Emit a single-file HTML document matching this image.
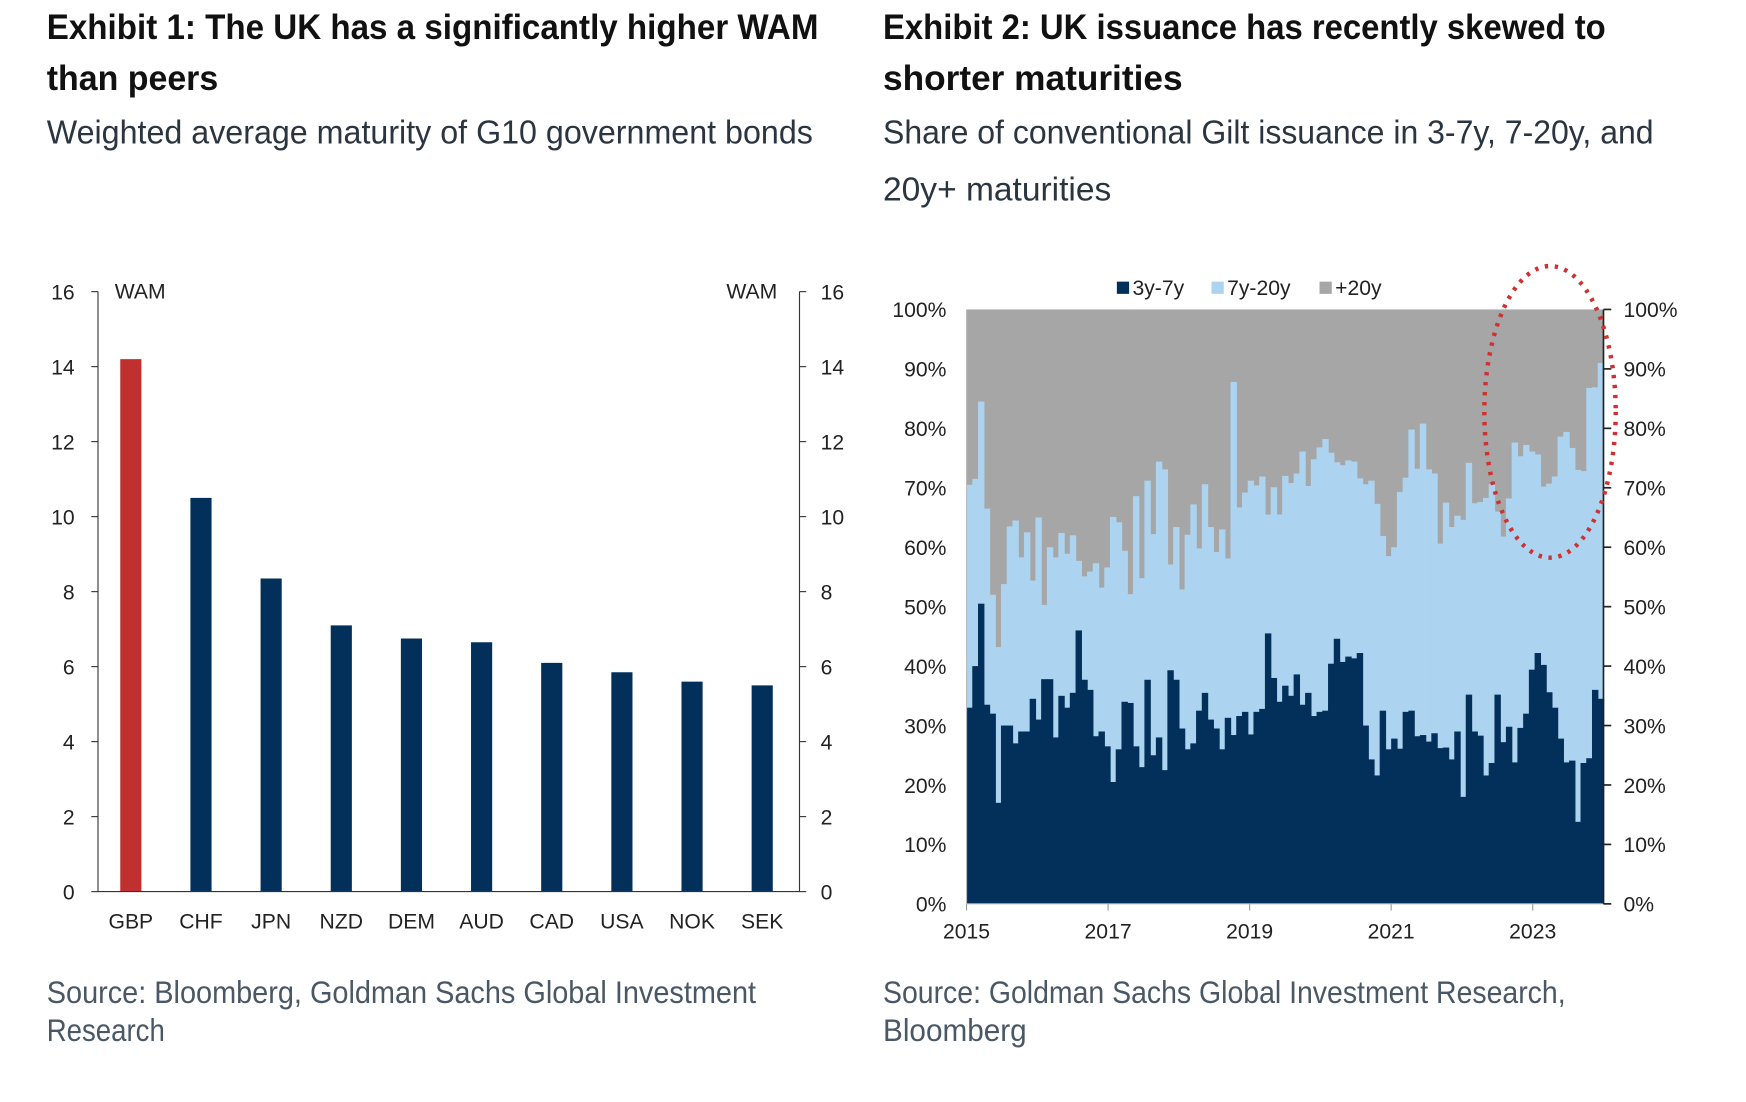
<!DOCTYPE html>
<html><head><meta charset="utf-8"><style>
html,body{margin:0;padding:0;background:#fff;}
svg{display:block;}
text{font-family:"Liberation Sans",Arial,sans-serif;}
.t{font-family:"Liberation Sans Narrow","Liberation Sans",sans-serif;font-weight:bold;fill:#111;font-size:32px;}
.s{font-family:"Liberation Sans Narrow","Liberation Sans",sans-serif;fill:#2b3540;font-size:30px;}
.src{font-family:"Liberation Sans Narrow","Liberation Sans",sans-serif;fill:#4a5866;font-size:28px;}
.ax{font-size:19px;fill:#222;}
</style></head><body>
<svg id="root" width="1746" height="1102" viewBox="0 0 1568 990" preserveAspectRatio="none" xmlns="http://www.w3.org/2000/svg">
<g>
<text class="t" x="42" y="35" textLength="693" lengthAdjust="spacingAndGlyphs">Exhibit 1: The UK has a significantly higher WAM</text>
<text class="t" x="42" y="81" textLength="154" lengthAdjust="spacingAndGlyphs">than peers</text>
<text class="s" x="42" y="129" textLength="688" lengthAdjust="spacingAndGlyphs">Weighted average maturity of G10 government bonds</text>
</g>
<g>
<text class="t" x="793" y="35" textLength="649" lengthAdjust="spacingAndGlyphs">Exhibit 2: UK issuance has recently skewed to</text>
<text class="t" x="793" y="81" textLength="269" lengthAdjust="spacingAndGlyphs">shorter maturities</text>
<text class="s" x="793" y="129" textLength="692" lengthAdjust="spacingAndGlyphs">Share of conventional Gilt issuance in 3-7y, 7-20y, and</text>
<text class="s" x="793" y="180" textLength="205" lengthAdjust="spacingAndGlyphs">20y+ maturities</text>
</g>
<text class="src" x="42" y="901" textLength="637" lengthAdjust="spacingAndGlyphs">Source: Bloomberg, Goldman Sachs Global Investment</text>
<text class="src" x="42" y="935" textLength="106" lengthAdjust="spacingAndGlyphs">Research</text>
<text class="src" x="793" y="901" textLength="613" lengthAdjust="spacingAndGlyphs">Source: Goldman Sachs Global Investment Research,</text>
<text class="src" x="793" y="935" textLength="129" lengthAdjust="spacingAndGlyphs">Bloomberg</text>
<g id="c1"></g>
<g id="c2"></g>
</svg>
<script>
const wamCountries = ["GBP","CHF","JPN","NZD","DEM","AUD","CAD","USA","NOK","SEK"];
const wamValues = [14.2,10.5,8.35,7.1,6.75,6.65,6.1,5.85,5.6,5.5];
const wamTicks = [0,2,4,6,8,10,12,14,16];
const share3to7 = [33,40,50.5,33.5,32,17,30,30,27,29,29,34.5,31,37.8,37.8,28,35,33,35.5,46,37.7,36,28.2,29,26.5,20.5,26,34,33.8,26.5,23,37.7,25,28,22.5,39.3,37.7,29.5,26,27,32.5,35.5,31,29.5,26,31.3,28.4,31.6,32.3,28.5,32.3,32.8,45.5,38,34,36.7,35,38.6,33.5,35.5,31.6,32.3,32.5,40.4,44.6,40.7,41.6,41.3,42.2,30,24.3,21.6,32.5,26,27.8,26.1,32.3,32.5,28.2,28.4,27.3,28.7,26.2,26.3,24.3,29,18,35.2,29,28.3,21.6,23.7,35.2,27.2,29.8,23.8,29.6,32,39.4,42.2,40.2,35.6,33,27.8,23.8,24.1,13.8,23.7,24.5,36,34.5];
const shareUpTo20 = [70.5,71.5,84.5,66.5,52,43.2,53.8,63.5,64.5,58.3,62.5,54.4,65,50.3,60,58.3,62.4,58.9,62,57.7,55.1,55.9,57.3,53.2,56.6,65.1,64.2,59.4,52.1,68.6,54.8,71.2,62.2,74.4,73.1,57.1,63.4,52.9,62.1,67.2,59.8,70.6,63.4,59.2,63,58.1,87.8,66.7,69.2,71.2,70.4,71.9,65.5,70.1,65.5,72,70.8,72.4,76.1,70.3,74.8,76.8,78.2,75.9,74.3,73.8,74.6,74.4,71.6,70.6,71.2,67.3,61.9,58.5,60,69.3,71.7,79.8,73.2,80.8,73.1,72.4,60.6,67.5,63.4,65.3,64.6,74.2,67.4,67.6,68.3,70.6,66,61.8,68.2,77.6,75.3,77.2,76.1,75.6,70.2,70.7,71.9,78.6,79.4,76.7,73,72.8,86.8,86.9,91];
const pctTicks = [0,10,20,30,40,50,60,70,80,90,100];
const yearLabels = ["2015","2017","2019","2021","2023"];
const yearStart = 2015, yearEnd = 2024;

const NS="http://www.w3.org/2000/svg";
function mk(p,tag,attrs,txt){const e=document.createElementNS(NS,tag);for(const k in attrs)e.setAttribute(k,attrs[k]);if(txt!==undefined)e.textContent=txt;p.appendChild(e);return e;}

// Chart 1
const c1=document.getElementById('c1');
const L1=88,R1=718,T1=262,B1=801;
const y1=v=>B1-(v/16)*(B1-T1);
const step1=(R1-L1)/wamCountries.length;
const x1=i=>L1+step1*(i+0.5)-2;
wamTicks.forEach(t=>{
  let e=mk(c1,'line',{x1:L1-6,x2:L1,y1:y1(t),y2:y1(t),stroke:'#333','stroke-width':1});
  
  
  e=mk(c1,'text',{x:67,y:y1(t)+7,class:'ax','text-anchor':'end'},String(t));
  
  
  e=mk(c1,'line',{x1:R1,x2:R1+6,y1:y1(t),y2:y1(t),stroke:'#333','stroke-width':1});
  
  
  e=mk(c1,'text',{x:737,y:y1(t)+7,class:'ax'},String(t));
  
  
});
wamValues.forEach((v,i)=>{
  let e=mk(c1,'rect',{x:x1(i)-9.5,y:y1(v),width:19,height:B1-y1(v),fill:i===0?'#c03030':'#03305a'});
  
  
  e=mk(c1,'text',{x:x1(i),y:834,class:'ax','text-anchor':'middle'},wamCountries[i]);
  
  
});
let a=mk(c1,'path',{d:`M${L1},${T1}V${B1}H${R1}V${T1}`,fill:'none',stroke:'#333','stroke-width':1});


a=mk(c1,'text',{x:103,y:268,class:'ax'},'WAM');


a=mk(c1,'text',{x:698,y:268,class:'ax','text-anchor':'end'},'WAM');



// Chart 2
const c2=document.getElementById('c2');
const L2=868,R2=1440,T2=278,B2=812;
const y2=v=>B2-(v/100)*(B2-T2);
const n=shareUpTo20.length;
const bw=(R2-L2)/n;
const x2=i=>L2+bw*i;
const xYear=yr=>L2+(yr-yearStart)/(yearEnd-yearStart)*(R2-L2);
let bg=mk(c2,'rect',{x:L2,y:T2,width:R2-L2,height:B2-T2,fill:'#a6a6a6'});


shareUpTo20.forEach((v,i)=>{
  const e=mk(c2,'rect',{x:x2(i),y:y2(v),width:bw+0.6,height:B2-y2(v),fill:'#acd3ef'});
  
  
});
share3to7.slice(0,n).forEach((v,i)=>{
  const e=mk(c2,'rect',{x:x2(i),y:y2(v),width:bw+0.6,height:B2-y2(v),fill:'#03305a'});
  
  
});
pctTicks.forEach(t=>{
  let e=mk(c2,'line',{x1:R2,x2:R2+7,y1:y2(t),y2:y2(t),stroke:'#222','stroke-width':1.5});
  
  
  e=mk(c2,'text',{x:850,y:y2(t)+7,class:'ax','text-anchor':'end'},t+'%');
  
  
  e=mk(c2,'text',{x:1458,y:y2(t)+7,class:'ax'},t+'%');
  
  
});
yearLabels.forEach(y=>{
  const xx=xYear(+y);
  let e=mk(c2,'line',{x1:xx,x2:xx,y1:B2,y2:B2+6,stroke:'#999','stroke-width':1});
  
  
  e=mk(c2,'text',{x:xx,y:843,class:'ax','text-anchor':'middle'},y);
  
  
});
a=mk(c2,'path',{d:`M${L2},${T2}V${B2}H${R2}`,fill:'none',stroke:'#bbb','stroke-width':1});


a=mk(c2,'line',{x1:R2,x2:R2,y1:T2,y2:B2,stroke:'#222','stroke-width':1.5});


const legend=[['3y-7y','#03305a',1003],['7y-20y','#acd3ef',1088],['+20y','#a6a6a6',1185]];
legend.forEach(l=>{
  const g=mk(c2,'g',{});
  
  
  mk(g,'rect',{x:l[2],y:253,width:11,height:11,fill:l[1]});
  mk(g,'text',{x:l[2]+14,y:265,class:'ax'},l[0]);
});
a=mk(c2,'ellipse',{cx:1392,cy:370,rx:59,ry:131,fill:'none',stroke:'#d03030','stroke-width':4,'stroke-dasharray':'3 6'});


</script>
</body></html>
